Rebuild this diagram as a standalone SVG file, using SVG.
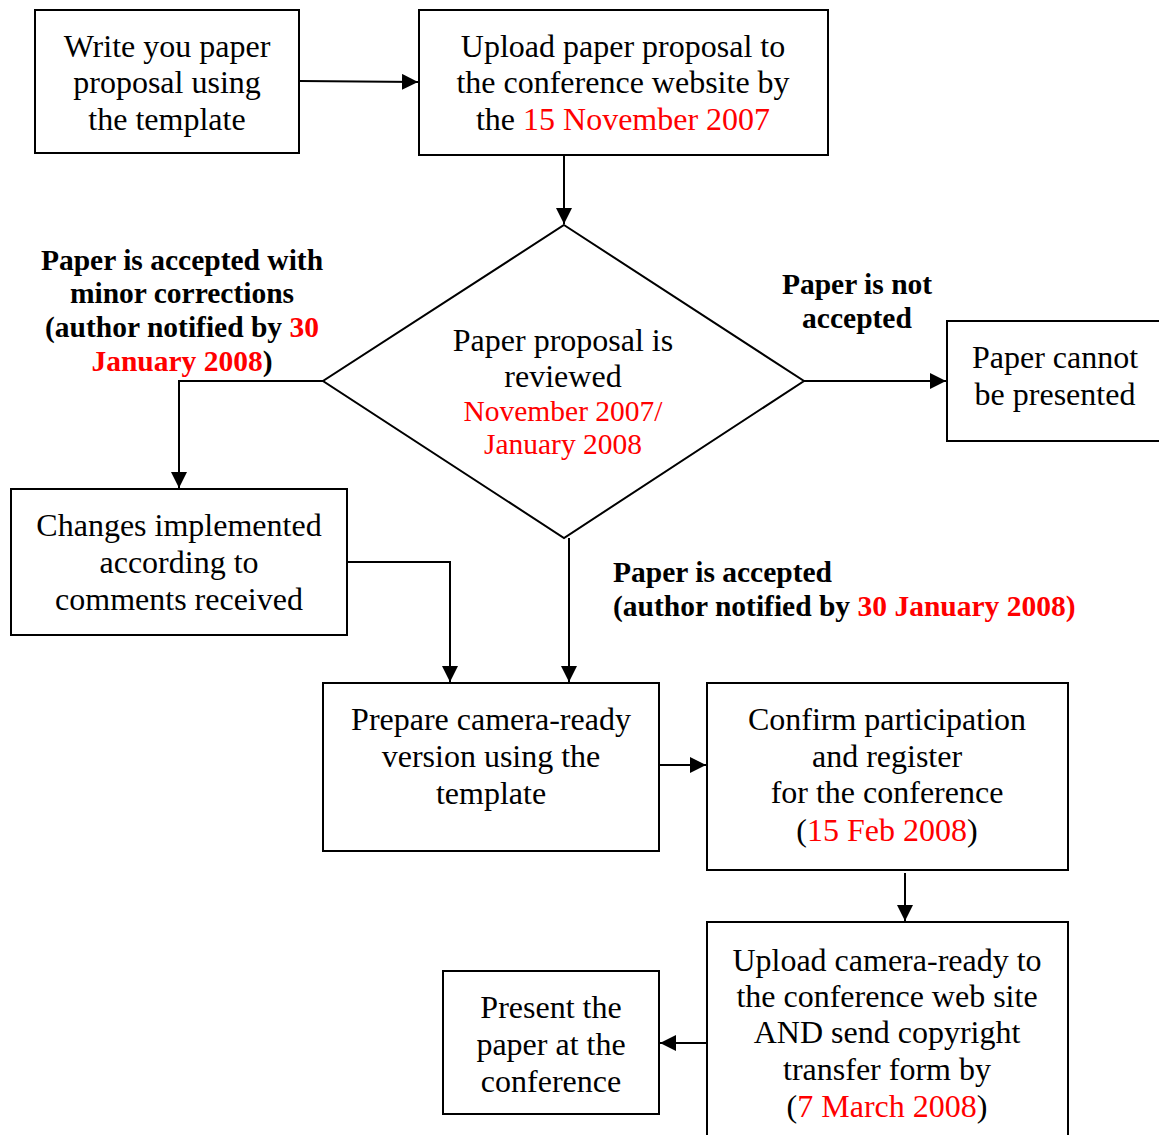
<svg xmlns="http://www.w3.org/2000/svg" width="1159" height="1135" viewBox="0 0 1159 1135">
<style>
.box{fill:#fff;stroke:#000;stroke-width:2}
.t{font-family:"Liberation Serif","Times New Roman",serif;font-size:32px;fill:#000;text-anchor:middle}
.b{font-family:"Liberation Serif","Times New Roman",serif;font-size:29.5px;font-weight:bold;fill:#000;text-anchor:middle}
.r{fill:#ff0000}
.c{fill:none;stroke:#000;stroke-width:2}
</style>
<defs>
<marker id="ah" viewBox="0 0 10 10" refX="10" refY="5" markerWidth="16" markerHeight="16" markerUnits="userSpaceOnUse" orient="auto">
<path d="M0,0 L10,5 L0,10 z" fill="#000"/>
</marker>
</defs>
<rect width="1159" height="1135" fill="#fff"/>
<g id="connectors">
<path class="c" d="M300,81 L418,82" marker-end="url(#ah)"/>
<path class="c" d="M564,155 L564,224" marker-end="url(#ah)"/>
<path class="c" d="M323,381 L179,381 L179,488" marker-end="url(#ah)"/>
<path class="c" d="M804,381 L946,381" marker-end="url(#ah)"/>
<path class="c" d="M347,562 L450,562 L450,682" marker-end="url(#ah)"/>
<path class="c" d="M569,538 L569,682" marker-end="url(#ah)"/>
<path class="c" d="M660,765 L706,765" marker-end="url(#ah)"/>
<path class="c" d="M905,873 L905,921" marker-end="url(#ah)"/>
<path class="c" d="M707,1043 L660,1043" marker-end="url(#ah)"/>
</g>
<g id="n1"><rect class="box" x="35" y="10" width="264" height="143"/>
<text class="t" x="167" y="57">Write you paper</text><text class="t" x="167" y="93">proposal using</text><text class="t" x="167" y="130">the template</text></g>
<g id="n2"><rect class="box" x="419" y="10" width="409" height="145"/>
<text class="t" x="623" y="57">Upload paper proposal to</text><text class="t" x="623" y="93">the conference website by</text><text class="t" x="623" y="130">the <tspan class="r">15 November 2007</tspan></text></g>
<g id="n3"><path class="box" d="M564,225 L804,381 L564,538 L323,381 Z"/>
<text class="t" x="563" y="351">Paper proposal is</text><text class="t" x="563" y="387">reviewed</text>
<text class="t r" x="563" y="421" style="font-size:29.5px">November 2007/</text><text class="t r" x="563" y="454" style="font-size:29.5px">January 2008</text></g>
<g id="n4"><rect class="box" x="947" y="321" width="214" height="120"/>
<text class="t" x="1055" y="368">Paper cannot</text><text class="t" x="1055" y="405">be presented</text></g>
<g id="n5"><rect class="box" x="11" y="489" width="336" height="146"/>
<text class="t" x="179" y="536">Changes implemented</text><text class="t" x="179" y="573">according to</text><text class="t" x="179" y="610">comments received</text></g>
<g id="n6"><rect class="box" x="323" y="683" width="336" height="168"/>
<text class="t" x="491" y="730">Prepare camera-ready</text><text class="t" x="491" y="767">version using the</text><text class="t" x="491" y="804">template</text></g>
<g id="n7"><rect class="box" x="707" y="683" width="361" height="187"/>
<text class="t" x="887" y="730">Confirm participation</text><text class="t" x="887" y="767">and register</text><text class="t" x="887" y="803">for the conference</text><text class="t" x="887" y="841">(<tspan class="r">15 Feb 2008</tspan>)</text></g>
<g id="n8"><rect class="box" x="707" y="922" width="361" height="220"/>
<text class="t" x="887" y="971">Upload camera-ready to</text><text class="t" x="887" y="1007">the conference web site</text><text class="t" x="887" y="1043">AND send copyright</text><text class="t" x="887" y="1080">transfer form by</text><text class="t" x="887" y="1117">(<tspan class="r">7 March 2008</tspan>)</text></g>
<g id="n9"><rect class="box" x="443" y="971" width="216" height="143"/>
<text class="t" x="551" y="1018">Present the</text><text class="t" x="551" y="1055">paper at the</text><text class="t" x="551" y="1092">conference</text></g>
<g id="labels">
<text class="b" x="182" y="270">Paper is accepted with</text>
<text class="b" x="182" y="303">minor corrections</text>
<text class="b" x="182" y="337">(author notified by <tspan class="r">30</tspan></text>
<text class="b" x="182" y="371"><tspan class="r">January 2008</tspan>)</text>
<text class="b" x="857" y="294">Paper is not</text>
<text class="b" x="857" y="328">accepted</text>
<text class="b" x="613" y="582" style="text-anchor:start">Paper is accepted</text>
<text class="b" x="613" y="616" style="text-anchor:start">(author notified by <tspan class="r">30 January 2008)</tspan></text>
</g>
</svg>
